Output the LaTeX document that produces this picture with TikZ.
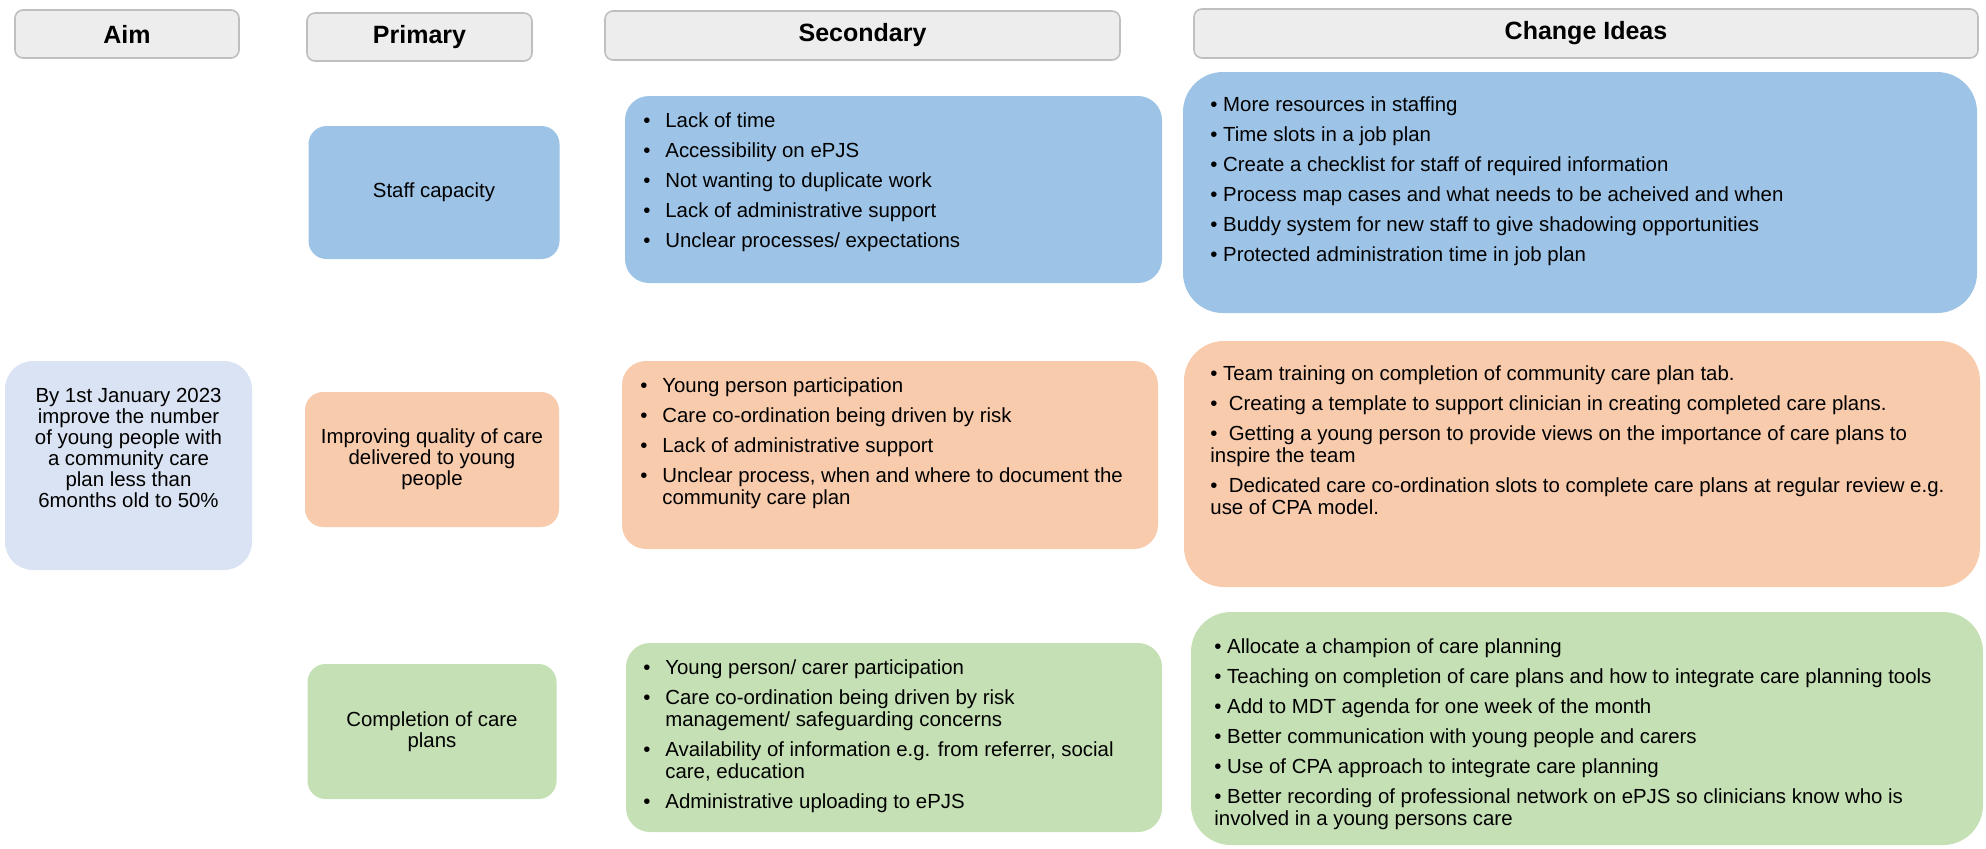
\documentclass[tikz,border=0pt]{standalone}
\usepackage{fontspec}
\setmainfont{Liberation Sans}
\usepackage{xcolor}
\usepackage{tikz}

\definecolor{hdrgray}{HTML}{EDEDED}
\definecolor{hdrline}{HTML}{BFBFBF}
\definecolor{aimblue}{HTML}{DAE3F3}
\definecolor{staffblue}{HTML}{9DC3E6}
\definecolor{careorange}{HTML}{F8CBAD}
\definecolor{plangreen}{HTML}{C5E0B4}

\newcommand{\listdot}{\makebox[11pt][l]{\textbullet}}

\begin{document}
\begin{tikzpicture}[x=0.5pt, y=-0.5pt,
    header/.style={draw=hdrline, line width=0.8pt, fill=hdrgray, rounded corners=4pt,
        font=\fontsize{12.5}{15}\selectfont\bfseries},
    panel/.style={rounded corners=#1, inner sep=0pt},
    primtext/.style={align=center, font=\fontsize{10.2}{10.5}\selectfont},
    listtext/.style={inner sep=0pt, anchor=base west, font=\fontsize{10.2}{11}\selectfont}]
    \useasboundingbox (0,0) rectangle (1986,848);

    \node[header, minimum width=112pt, minimum height=24pt] (hAim) at (127,34) {Aim};
    \node[header, minimum width=112.5pt, minimum height=24pt] (hPrim) at (419.5,37) {Primary};
    \node[header, minimum width=257.5pt, minimum height=24.5pt] (hSec) at (862.5,35.5) {Secondary};
    \node[header, minimum width=392pt, minimum height=24.5pt] (hChg) at (1586,33.5) {Change Ideas};

    \node[panel=14pt, fill=aimblue, minimum width=123.5pt, minimum height=104.5pt] (aim) at (128.5,465.5) {};
    \node[primtext] (aimText) at (128.5,448) {By 1st January 2023\\improve the number\\of young people with\\a community care\\plan less than\\6months old to 50\%};

    \node[panel=9pt, fill=staffblue, primtext, minimum width=125.5pt, minimum height=66.5pt] (pStaff) at (434,192.5) {Staff capacity};
    \node[panel=9pt, fill=careorange, primtext, minimum width=127pt, minimum height=67.5pt] (pCare) at (432,459.5) {Improving quality of care\\delivered to young\\people};
    \node[panel=9pt, fill=plangreen, primtext, minimum width=124.5pt, minimum height=67.5pt] (pPlan) at (432,731.5) {Completion of care\\plans};

    \node[panel=12pt, fill=staffblue, minimum width=268.5pt, minimum height=93.5pt] (sStaff) at (893.5,189.5) {};
    \node[panel=12pt, fill=careorange, minimum width=268pt, minimum height=94pt] (sCare) at (890,455) {};
    \node[panel=12pt, fill=plangreen, minimum width=268pt, minimum height=94.5pt] (sPlan) at (894,737.5) {};

    \node[panel=20pt, fill=staffblue, minimum width=397pt, minimum height=120.5pt] (cStaff) at (1580,192.5) {};
    \node[panel=20pt, fill=careorange, minimum width=398pt, minimum height=123pt] (cCare) at (1582,464) {};
    \node[panel=20pt, fill=plangreen, minimum width=396pt, minimum height=116.5pt] (cPlan) at (1587,728.5) {};

    \node[listtext] (sStaffList) at (643,127) {\begin{tabular}[t]{@{}l@{}l@{}}
        \listdot & Lack of time\\[4pt]
        \listdot & Accessibility on ePJS\\[4pt]
        \listdot & Not wanting to duplicate work\\[4pt]
        \listdot & Lack of administrative support\\[4pt]
        \listdot & Unclear processes/ expectations
    \end{tabular}};
    \node[listtext] (sCareList) at (640,392) {\begin{tabular}[t]{@{}l@{}l@{}}
        \listdot & Young person participation\\[4pt]
        \listdot & Care co-ordination being driven by risk\\[4pt]
        \listdot & Lack of administrative support\\[4pt]
        \listdot & Unclear process, when and where to document the\\
                 & community care plan
    \end{tabular}};
    \node[listtext] (sPlanList) at (643,674) {\begin{tabular}[t]{@{}l@{}l@{}}
        \listdot & Young person/ carer participation\\[4pt]
        \listdot & Care co-ordination being driven by risk\\
                 & management/ safeguarding concerns\\[4pt]
        \listdot & Availability of information e.g. from referrer, social\\
                 & care, education\\[4pt]
        \listdot & Administrative uploading to ePJS
    \end{tabular}};

    \node[listtext] (cStaffList) at (1210,111) {\begin{tabular}[t]{@{}l@{}}
        \textbullet\ More resources in staffing\\[4pt]
        \textbullet\ Time slots in a job plan\\[4pt]
        \textbullet\ Create a checklist for staff of required information\\[4pt]
        \textbullet\ Process map cases and what needs to be acheived and when\\[4pt]
        \textbullet\ Buddy system for new staff to give shadowing opportunities\\[4pt]
        \textbullet\ Protected administration time in job plan
    \end{tabular}};
    \node[listtext] (cCareList) at (1210,380) {\begin{tabular}[t]{@{}l@{}}
        \textbullet\ Team training on completion of community care plan tab.\\[4pt]
        \textbullet\ \ Creating a template to support clinician in creating completed care plans.\\[4pt]
        \textbullet\ \ Getting a young person to provide views on the importance of care plans to\\
        inspire the team\\[4pt]
        \textbullet\ \ Dedicated care co-ordination slots to complete care plans at regular review e.g.\\
        use of CPA model.
    \end{tabular}};
    \node[listtext] (cPlanList) at (1214,653) {\begin{tabular}[t]{@{}l@{}}
        \textbullet\ Allocate a champion of care planning\\[4pt]
        \textbullet\ Teaching on completion of care plans and how to integrate care planning tools\\[4pt]
        \textbullet\ Add to MDT agenda for one week of the month\\[4pt]
        \textbullet\ Better communication with young people and carers\\[4pt]
        \textbullet\ Use of CPA approach to integrate care planning\\[4pt]
        \textbullet\ Better recording of professional network on ePJS so clinicians know who is\\
        involved in a young persons care
    \end{tabular}};
\end{tikzpicture}
\end{document}
